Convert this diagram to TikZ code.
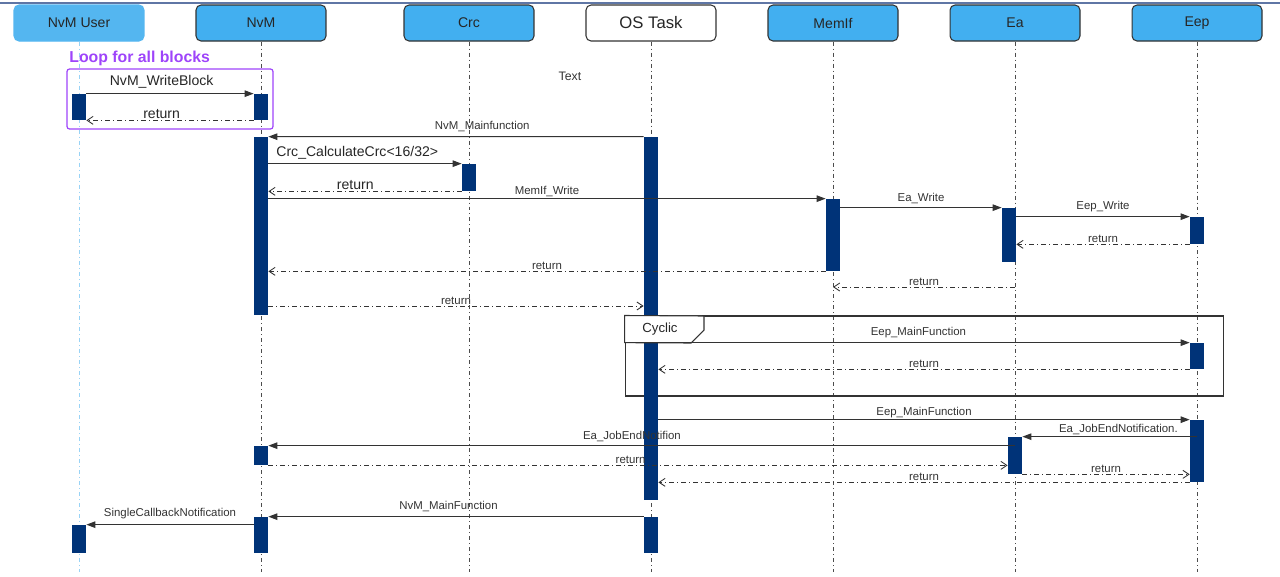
\documentclass[tikz,border=0pt]{standalone}
\usepackage{fontspec}
\setmainfont{Liberation Sans}
\usepackage{tikz}
\usetikzlibrary{arrows.meta}
\definecolor{headblue}{RGB}{66,175,240}
\definecolor{userblue}{RGB}{84,182,240}
\definecolor{barblue}{RGB}{0,51,120}
\definecolor{loopviolet}{RGB}{158,68,250}
\definecolor{topline}{RGB}{95,118,165}
\tikzstyle{head} = [draw=black!80,line width=0.6pt,fill=headblue,rounded corners=1mm,minimum width=2.6cm,minimum height=0.72cm,font=\fontsize{8}{9}\selectfont,text=black!85]
\tikzstyle{life} = [draw=black!70,line width=0.5pt,dash pattern=on 0.8mm off 0.6mm on 0.2mm off 0.6mm]
\tikzstyle{actbar} = [fill=barblue,draw=none,minimum width=0.28cm,inner sep=0]
\tikzstyle{msg} = [draw=black!80,line width=0.6pt]
\tikzstyle{call} = [msg,-{Triangle[length=1.8mm,width=1.3mm]}]
\tikzstyle{ret} = [msg,line width=0.5pt,dash pattern=on 1mm off 0.6mm on 0.2mm off 0.6mm,-{Straight Barb[length=1.2mm,width=1.6mm]}]
\tikzstyle{lbl} = [font=\fontsize{6.5}{7}\selectfont,text=black!80,inner sep=1pt]
\tikzstyle{biglbl} = [font=\fontsize{8}{9}\selectfont,text=black!85,inner sep=1pt]

\begin{document}
\begin{tikzpicture}[x=0.02cm,y=-0.02cm]
    \useasboundingbox (0,0) rectangle (1280,576);
    \draw[topline,line width=0.6pt] (0,3) -- (1280,3);

    % lifeline heads
    \node[head,draw=userblue,fill=userblue] (user) at (79,23) {NvM User};
    \node[head] (nvm) at (261,23) {NvM};
    \node[head] (crc) at (469,23) {Crc};
    \node[head,fill=white,font=\fontsize{9.5}{10}\selectfont] (os) at (651,23) {OS Task};
    \node[head] (memif) at (833,23) {MemIf};
    \node[head] (ea) at (1015,23) {Ea};
    \node[head] (eep) at (1197,23) {Eep};

    \coordinate (bottom) at (0,572);
    \draw[life,draw=userblue!60] (user.south) -- (user |- bottom);
    \draw[life] (nvm.south) -- (nvm |- bottom);
    \draw[life] (crc.south) -- (crc |- bottom);
    \draw[life] (os.south) -- (os |- bottom);
    \draw[life] (memif.south) -- (memif |- bottom);
    \draw[life] (ea.south) -- (ea |- bottom);
    \draw[life] (eep.south) -- (eep |- bottom);

    % loop and cyclic frames
    \node[anchor=west,inner sep=0,text=loopviolet,font=\bfseries\fontsize{9}{10}\selectfont] (looplbl) at (69,58) {Loop for all blocks};
    \node[draw=loopviolet,line width=0.7pt,rounded corners=0.5mm,minimum width=4.12cm,minimum height=1.2cm] (loop) at (170,99) {};
    \node[lbl,font=\fontsize{7}{8}\selectfont] (txt) at (570,76) {Text};

    \node[draw=black!80,line width=0.6pt,inner sep=0,minimum width=11.98cm,minimum height=1.6cm] (cyclic) at (924.5,356) {};

    % activation bars
    \node[actbar,minimum height=0.52cm] (ub1) at (79,107) {};
    \node[actbar,minimum height=0.52cm] (nb1) at (261,107) {};
    \node[actbar,minimum height=3.56cm] (nb2) at (261,226) {};
    \node[actbar,minimum height=7.26cm] (osb1) at (651,318.5) {};
    \node[actbar,minimum height=0.54cm] (crcb) at (469,177.5) {};
    \node[actbar,minimum height=1.44cm] (mb) at (833,235) {};
    \node[actbar,minimum height=1.08cm] (eab1) at (1009,235) {};
    \node[actbar,minimum height=0.54cm] (eepb1) at (1197,230.5) {};
    \node[actbar,minimum height=0.52cm] (eepb2) at (1197,356) {};
    \node[actbar,minimum height=1.24cm] (eepb3) at (1197,451) {};
    \node[actbar,minimum height=0.74cm] (eab2) at (1015,455.5) {};
    \node[actbar,minimum height=0.38cm] (nb3) at (261,455.5) {};
    \node[actbar,minimum height=0.72cm] (osb2) at (651,535) {};
    \node[actbar,minimum height=0.72cm] (nb4) at (261,535) {};
    \node[actbar,minimum height=0.56cm] (ub2) at (79,539) {};

    % tab of the cyclic frame
    \filldraw[msg,fill=white] (cyclic.north west) -- (704,316) -- (704,330) -- (691,343) -- (cyclic.west |- eepb2.north) -- cycle;
    \node[font=\fontsize{7.5}{8}\selectfont,text=black!85] (cyclbl) at (660,329) {Cyclic};

    \coordinate (r11) at (0,287);
    \coordinate (r12) at (0,306);

    % messages
    \draw[call] (ub1.north east) -- node[biglbl,pos=0.45,above=2pt] {NvM\_WriteBlock} (nb1.north west);
    \draw[ret] (nb1.south west) -- node[biglbl,pos=0.55,above,inner sep=0.5pt] {return} (ub1.south east);
    \draw[call] (osb1.north west) -- node[lbl,pos=0.43,above=1.5pt] {NvM\_Mainfunction} (nb2.north east);
    \draw[call] (nb2.east |- crcb.north) -- node[biglbl,pos=0.46,above=1pt] {Crc\_CalculateCrc<16/32>} (crcb.north west);
    \draw[ret] (crcb.south west) -- node[biglbl,pos=0.55,above,inner sep=0.5pt] {return} (nb2.east |- crcb.south);
    \draw[call] (nb2.east |- mb.north) -- node[lbl,above,inner sep=0.5pt] {MemIf\_Write} (mb.north west);
    \draw[call] (mb.east |- eab1.north) -- node[lbl,above=1pt] {Ea\_Write} (eab1.north west);
    \draw[call] (eab1.east |- eepb1.north) -- node[lbl,above=1.5pt] {Eep\_Write} (eepb1.north west);
    \draw[ret] (eepb1.south west) -- node[lbl,above,inner sep=0.5pt] {return} (eab1.east |- eepb1.south);
    \draw[ret] (mb.south west) -- node[lbl,above,inner sep=0.5pt] {return} (nb2.east |- mb.south);
    \draw[ret] (ea |- r11) -- node[lbl,above,inner sep=0.5pt] {return} (memif |- r11);
    \draw[ret] (nb2.east |- r12) -- node[lbl,above,inner sep=0.5pt] {return} (osb1.west |- r12);
    \draw[call] (cyclic.west |- eepb2.north) -- node[lbl,pos=0.52,above=1.5pt] {Eep\_MainFunction} (eepb2.north west);
    \draw[ret] (eepb2.south west) -- node[lbl,above,inner sep=0.5pt] {return} (osb1.east |- eepb2.south);
    \draw[call] (osb1.east |- eepb3.north) -- node[lbl,above,inner sep=0.5pt] {Eep\_MainFunction} (eepb3.north west);
    \draw[call] (eepb3 |- eab2.north) -- node[lbl,pos=0.45,above,inner sep=0.5pt] {Ea\_JobEndNotification.} (eab2.north east);
    \draw[call] (eab2 |- nb3.north) -- node[lbl,pos=0.513,above=1pt] {Ea\_JobEndNotifion} (nb3.north east);
    \draw[ret] (nb3.south east) -- node[lbl,pos=0.49,above,inner sep=0.5pt] {return} (eab2.west |- nb3.south);
    \draw[ret] (eab2.south east) -- node[lbl,above,inner sep=0.5pt] {return} (eepb3.west |- eab2.south);
    \draw[ret] (eepb3.south west) -- node[lbl,above,inner sep=0.5pt] {return} (osb1.east |- eepb3.south);
    \draw[call] (osb2.north west) -- node[lbl,pos=0.52,above=1.5pt] {NvM\_MainFunction} (nb4.north east);
    \draw[call] (nb4.west |- ub2.north) -- node[lbl,above=2pt] {SingleCallbackNotification} (ub2.north east);

\end{tikzpicture}
\end{document}
